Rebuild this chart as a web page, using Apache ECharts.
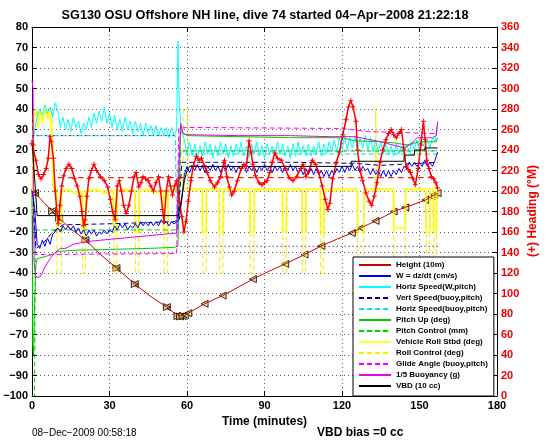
<!DOCTYPE html>
<html><head><meta charset="utf-8">
<script src="https://cdn.jsdelivr.net/npm/echarts@6/dist/echarts.min.js"></script>
<style>html,body{margin:0;padding:0;background:#fff}#c{width:546px;height:442px}</style>
</head><body><div id="c"></div>
<script>
const FONT = '"Liberation Sans", Arial, Helvetica, sans-serif';

// ---- data ----
const minutes = [
 0,1,2,3,4,5,6,7,8,9,
 10,11,12,13,14,15,16,17,18,19,
 20,21,22,23,24,25,26,27,28,29,
 30,31,32,33,34,35,36,37,38,39,
 40,41,42,43,44,45,46,47,48,49,
 50,51,52,53,54,55,56,56.5,57,58,
 59,60,61,62,63,64,65,66,67,68,
 69,70,71,72,73,74,75,76,77,78,
 79,80,81,82,83,84,85,86,87,88,
 89,90,91,92,93,94,95,96,97,98,
 99,100,101,102,103,104,105,106,107,108,
 109,110,111,112,113,114,115,116,117,118,
 119,120,121,122,123,124,125,126,127,128,
 129,130,131,132,133,134,135,136,137,138,
 139,140,141,142,143,144,145,146,147,148,
 149,150,151,152,153,154,155,156,157];
const horizSpeedW = [
 20,30,36,40,37,42,38,41,36,43,
 39,31,36,30,35,29,36,31,34,28,
 33,30,36,31,38,33,39,34,41,33,
 38,31,37,30,35,29,36,30,34,28,
 34,29,33,27,33,28,32,27,32,27,
 31,27,31,26,31,27,30,73,42,28,
 25,18,24,17,23,16,22,17,24,18,
 23,16,22,17,24,18,23,16,22,17,
 23,18,24,17,22,16,23,18,24,17,
 22,16,23,18,22,17,24,18,23,17,
 22,16,23,17,24,18,22,17,23,17,
 22,18,24,17,23,18,24,19,25,19,
 26,20,27,20,26,21,27,20,26,21,
 27,20,26,19,25,19,24,18,23,18,
 22,17,23,18,22,18,23,19,24,20,
 25,20,24,21,25,21,26,24,33];
const wSpeed = [
 0,-8,-26,-28,-24,-27,-23,-26,-21,-20,
 -18,-20,-17,-19,-17,-19,-17,-20,-18,-21,
 -19,-22,-19,-21,-19,-22,-20,-21,-19,-21,
 -19,-20,-17,-19,-16,-18,-16,-19,-17,-18,
 -16,-18,-15,-17,-15,-17,-15,-17,-15,-17,
 -14,-16,-15,-17,-15,-16,-15,-15,-14,-4,
 8,12,9,12,10,13,10,12,9,12,
 10,13,10,12,9,12,10,13,10,12,
 9,12,10,13,9,12,10,12,9,12,
 10,13,10,12,9,12,10,12,9,12,
 10,13,10,12,9,11,8,11,8,11,
 8,11,8,10,7,10,7,10,8,11,
 9,12,9,12,10,13,10,12,9,12,
 10,11,8,11,8,10,7,10,7,10,
 7,10,8,11,9,12,11,14,12,14,
 12,14,12,15,12,14,12,15,19];

const heightProfile = [[0,0],[1.2,-1],[4.5,-5.5],[7.8,-9.8],[10.5,-13.2],[15,-18.5],[20.7,-23.9],[26.5,-31],[32.7,-37.6],[39.8,-45.4],[46,-51.5],[52.2,-56.6],[55,-59.5],[57,-61],[59,-60.8],[60.5,-59.6],[66.8,-55],[73.8,-51],[80,-46.8],[85.5,-43],[92,-39],[98,-35.6],[105.5,-31],[112,-26.8],[118,-23.5],[123.8,-20.5],[127.3,-18],[133,-14.6],[140,-10],[144.5,-8],[152.3,-4.4],[157,-1]];
const descentMarkers = [[1.2,-1],[7.8,-9.8],[10.5,-13.2],[20.7,-23.9],[32.7,-37.6],[39.8,-45.4],[52.2,-56.6],[56.3,-61],[57.3,-61.2],[58.3,-61]];
const ascentMarkers = [[59.3,-60.5],[60.5,-59.6],[66.8,-55],[73.8,-51],[85.5,-43],[98,-35.6],[105.5,-31],[112,-26.8],[123.8,-20.5],[127.3,-18],[133,-14.6],[140,-10],[144.5,-8],[152.3,-4.4],[154.6,-2.6],[155.7,-1.8],[157,-1]];

const vertSpeedBuoy = [[0.5,-5],[1.5,-28],[4,-26],[8,-20],[12,-16.5],[30,-16],[55,-15],[56.5,-14],[58,14],[100,14],[125,13.5],[135,12.5],[157,14]];
const horizSpeedBuoy = [[1.5,27],[55.5,27],[56,-20],[56.8,18],[157,18]];
const pitchUp = [[0,0],[0.3,-75],[0.6,-80],[1,-55],[1.5,-36],[2,-33],[5,-32],[8,-31],[10,-29.5],[15,-29],[30,-28.5],[45,-28],[55,-27.5],[56.5,-27],[57.5,29],[60,27],[80,26.5],[100,26],[120,26],[125,24.5],[135,24],[140,23.5],[145,22.5],[150,24],[156.5,24],[157,26]];
const pitchControl = [[0,-100],[1,-100],[1.3,-19],[56.5,-19],[57.5,19.5],[157,19.5]];
const rollStbd = [[0,0],[0.3,-12],[0.7,36],[1.5,40],[2.3,31],[3.2,39],[4,33],[5,41],[6,35],[7,40],[7.6,28],[8.2,2],[9.6,1],[9.7,-20],[11.4,-20],[11.5,0],[14,1],[16,-1],[19.4,0],[19.5,-20],[20.7,-20],[20.8,0],[25,1],[28,-1],[31.5,0],[31.6,-20],[32.9,-20],[33,0],[36,1],[39.9,0],[40,-20],[41.4,-20],[41.5,0],[45,1],[48,-1],[50.9,0],[51,-20],[52.6,-20],[52.7,0],[55,1],[56.5,0],[57.5,8],[58.5,3],[59.5,1],[65.9,1],[66,-20],[67.5,-20],[67.6,1],[72.5,1],[72.6,-20],[74,-20],[74.1,1],[84.3,1],[84.4,-20],[86,-20],[86.1,1],[96.9,1],[97,-20],[98.5,-20],[98.6,1],[104.5,1],[104.6,-20],[106,-20],[106.1,1],[111.6,1],[111.7,-20],[113,-20],[113.1,1],[125.9,1],[126,-20],[128.5,-20],[128.6,1],[139.9,1],[140,-18],[144.5,-18],[144.6,1],[152.4,1],[152.5,-20],[154,-20],[154.1,1],[155.4,1],[155.5,-20],[156.5,-20],[156.6,1],[157,2]];
const rollControl = [[0,0],[0.5,38],[8,38],[8.3,0],[9.6,0],[9.7,-40],[11.4,-40],[11.5,0],[19.5,0],[19.6,-40],[20.6,-40],[20.7,0],[31.6,0],[31.7,-40],[32.8,-40],[32.9,0],[40,0],[40.1,-40],[41.3,-40],[41.4,0],[51,0],[51.1,-40],[52.5,-40],[52.6,0],[58.5,0],[58.6,40],[60.3,40],[60.4,0],[66,0],[66.1,-40],[67.4,-40],[67.5,0],[72.6,0],[72.7,-40],[73.9,-40],[74,0],[84.4,0],[84.5,-40],[85.9,-40],[86,0],[97,0],[97.1,-40],[98.4,-40],[98.5,0],[104.6,0],[104.7,-40],[105.9,-40],[106,0],[111.7,0],[111.8,-40],[112.9,-40],[113,0],[126,0],[126.1,-40],[128.4,-40],[128.5,0],[132.9,0],[133,40],[133.6,40],[133.7,0],[140,0],[140.1,-40],[144.4,-40],[144.5,0],[152.5,0],[152.6,-40],[153.9,-40],[154,0],[155.5,0],[155.6,-40],[156.5,-40],[156.6,0]];
const glideAngle = [[0.5,-10],[1.5,-31],[56,-30.5],[56.8,30.5],[60,31],[120,30.5],[130,29],[156.5,28],[157,33]];
const buoyancy = [[0,54],[0.4,50],[0.8,-35],[1.5,-42],[3,-42],[4,-40],[5,-37],[7,-33],[9,-30],[11,-28],[13,-28],[16,-26],[20.7,-24.7],[30,-23.6],[40,-22.4],[50,-21.2],[56,-20.5],[57.5,33],[58.5,28],[60,27.5],[80,27],[100,27],[115,26.5],[125,26.5],[135,24],[144,21],[147,23],[149,26],[155,26],[156.5,27],[157,34]];
const vbd = [[0,25],[0.7,12],[1.2,12],[2,-12],[56.5,-12],[57,-10],[58,-3],[59,5],[60,10],[61,12],[123.5,12],[123.6,14.5],[144,14.5],[144.1,17.5],[148,17.5],[148.1,20],[152,20],[152.1,21],[157,21]];
const refGlide = [[0.5,27],[56,27]];
const refGlideUp = [[56,-27],[157,-27]];
const headingTarget = [[10,213],[157,213]];
const heading = [[0,246],[0.5,245],[1.5,230],[2.5,216],[3.5,212],[4.5,216],[5.5,222],[6.3,232],[7,253],[7.5,248],[8.3,232],[9,200],[9.6,180],[10.2,168],[10.8,186],[11.5,205],[12.3,215],[13.2,222],[14.3,226],[15.4,222],[16.5,212],[17.5,205],[18.5,195],[19.3,180],[20,166],[20.6,172],[21.3,195],[22,212],[23,220],[24,226],[25,220],[26.5,214],[28,210],[29.3,204],[30.3,192],[31.2,180],[32.2,172],[33,205],[33.8,210],[34.6,200],[35.5,186],[36.5,178],[37.5,186],[38.5,200],[39.5,214],[40.3,218],[41.3,204],[42.2,208],[43,214],[44,212],[45,210],[46,205],[47,200],[48,208],[49,214],[49.8,200],[50.5,182],[51.1,170],[52,200],[52.8,214],[53.6,205],[54.4,196],[55.2,205],[56,210],[57,190],[58,175],[58.8,160],[59.6,170],[60.5,190],[61.5,210],[62.5,225],[63.6,234],[64.6,230],[65.6,232],[66.6,225],[67.8,218],[69,210],[70.6,204],[71.8,208],[73,214],[74.5,230],[75.4,214],[76.4,204],[77.3,196],[78.3,200],[79.5,210],[81,222],[82,226],[83,224],[84,249],[84.8,238],[85.5,226],[86.5,215],[87.9,208],[89,206],[90,208],[91,210],[92,218],[93,228],[94,237],[95,232],[96.5,230],[98,222],[99.5,213],[101,210],[102.5,214],[104,222],[105,226],[106,214],[107.3,220],[108.5,230],[109.8,226],[111,218],[112.3,205],[113.5,192],[114.5,182],[115.3,188],[116.4,212],[117.8,228],[119,238],[120.3,255],[121.6,270],[122.5,282],[123.4,288],[124.3,282],[125.4,268],[126,240],[127,220],[128,210],[129.3,198],[130.5,190],[131.5,186],[132.5,195],[133.5,208],[134.7,228],[135.8,240],[137,250],[138,256],[139,260],[140,255],[141,252],[142,256],[143,260],[144,240],[144.8,224],[145.6,221],[146.5,218],[147.5,212],[148.4,206],[149.5,222],[150.5,245],[151.5,268],[152.2,250],[152.8,230],[153.7,222],[154.6,214],[155.5,212],[156.3,208],[157,203]];

const legendNames = ['Height (10m)','W = dz/dt (cm/s)','Horiz Speed(W,pitch)','Vert Speed(buoy,pitch)','Horiz Speed(buoy,pitch)','Pitch Up (deg)','Pitch Control (mm)','Vehicle Roll Stbd (deg)','Roll Control (deg)','Glide Angle (buoy,pitch)','1/5 Buoyancy (g)','VBD (10 cc)'];

// ---- build ----
const zip = (xs, ys) => xs.map((x, i) => [x, ys[i]]);
const minus = v => String(v).replace('-', '\u2212');
function line(name, data, color, width, type, extra) {
  return Object.assign({
    type: 'line', name, data, symbol: 'none', showSymbol: false,
    lineStyle: { color, width, type: type || 'solid' },
    itemStyle: { color }, emphasis: { disabled: true }, silent: true
  }, extra || {});
}
const DASH = [5, 3];
const series = [
  line('Vehicle Roll Stbd (deg)', rollStbd, '#ffff33', 2),
  line('Roll Control (deg)', rollControl, '#f0f000', 1, DASH),
  line('Horiz Speed(W,pitch)', zip(minutes, horizSpeedW), '#00ffff', 1),
  line('Horiz Speed(buoy,pitch)', horizSpeedBuoy, '#00e0e0', 1, DASH),
  line('Pitch Up (deg)', pitchUp, '#00cc00', 1),
  line('Pitch Control (mm)', pitchControl, '#00cc00', 1, DASH),
  line('Glide Angle (buoy,pitch)', glideAngle, '#ff00ff', 1, DASH),
  line('1/5 Buoyancy (g)', buoyancy, '#ee00ee', 1),
  line('W = dz/dt (cm/s)', zip(minutes, wSpeed), '#0000ff', 1),
  line('Vert Speed(buoy,pitch)', vertSpeedBuoy, '#000099', 1, DASH),
  line('ref1', refGlide, '#000080', 1, [1, 3]),
  line('ref2', refGlideUp, '#000080', 1, [1, 3]),
  line('hdgTarget', headingTarget, '#dd0000', 1, [6, 4], { yAxisIndex: 1 }),
  line('heading', heading, '#ff0000', 1.5, 'solid', {
    yAxisIndex: 1, symbol: 'path://M-1,-5L1,-5L1,-1L5,-1L5,1L1,1L1,5L-1,5L-1,1L-5,1L-5,-1L-1,-1Z',
    showSymbol: true, symbolSize: 5
  }),
  line('VBD (10 cc)', vbd, '#000000', 1),
  line('Height (10m)', heightProfile, '#cc0000', 1),
  { type: 'scatter', name: 'mk1', data: descentMarkers, symbol: 'triangle', symbolSize: 7, symbolRotate: 90,
    itemStyle: { color: '#f3d37a', borderColor: '#000', borderWidth: 1 }, silent: true },
  { type: 'scatter', name: 'mk2', data: descentMarkers, symbol: 'triangle', symbolSize: 7, symbolRotate: -90,
    itemStyle: { color: '#f3d37a', borderColor: '#000', borderWidth: 1 }, silent: true },
  { type: 'scatter', name: 'mk3', data: ascentMarkers, symbol: 'triangle', symbolSize: 7, symbolRotate: 90,
    itemStyle: { color: '#f3d37a', borderColor: '#000', borderWidth: 1 }, silent: true }
];

const labelStyle = { fontFamily: FONT, fontWeight: 'bold', fontSize: 11, color: '#000' };
const chart = echarts.init(document.getElementById('c'), null, { renderer: 'canvas' });
chart.setOption({
  animation: false,
  backgroundColor: '#fff',
  grid: { left: 32, right: 49, top: 27, bottom: 46, containLabel: false },
  xAxis: [
    { type: 'value', min: 0, max: 180, interval: 30, position: 'bottom',
      name: 'Time (minutes)', nameLocation: 'middle', nameGap: 16,
      nameTextStyle: { fontFamily: FONT, fontWeight: 'bold', fontSize: 12, color: '#000' },
      axisLine: { show: true, onZero: false, lineStyle: { color: '#000', width: 1 } },
      axisTick: { show: true, inside: true, length: 5, lineStyle: { color: '#000' } },
      axisLabel: Object.assign({ margin: 4, formatter: minus }, labelStyle),
      splitLine: { show: true, lineStyle: { color: '#666', type: [1, 3], width: 1 } } },
    { type: 'value', min: 0, max: 180, interval: 30, position: 'top',
      axisLine: { show: true, onZero: false, lineStyle: { color: '#000', width: 1 } },
      axisTick: { show: true, inside: true, length: 5, lineStyle: { color: '#000' } },
      axisLabel: { show: false }, splitLine: { show: false } }
  ],
  yAxis: [
    { type: 'value', min: -100, max: 80, interval: 10, position: 'left',
      axisLine: { show: true, onZero: false, lineStyle: { color: '#000', width: 1 } },
      axisTick: { show: true, inside: true, length: 5, lineStyle: { color: '#000' } },
      axisLabel: Object.assign({ margin: 4, formatter: minus }, labelStyle),
      splitLine: { show: true, lineStyle: { color: '#666', type: [1, 3], width: 1 } } },
    { type: 'value', min: 0, max: 360, interval: 20, position: 'right',
      axisLine: { show: true, onZero: false, lineStyle: { color: '#000', width: 1 } },
      axisTick: { show: true, inside: true, length: 5, lineStyle: { color: '#000' } },
      axisLabel: Object.assign({}, labelStyle, { margin: 4, color: '#ee0000' }),
      splitLine: { show: false } }
  ],
  legend: {
    data: legendNames, orient: 'vertical', left: 353, top: 257,
    itemWidth: 32, itemHeight: 8, itemGap: 3, padding: [4, 6, 6, 5],
    backgroundColor: '#fff', borderColor: '#000', borderWidth: 1, borderRadius: 0,
    selectedMode: false, z: 20,
    itemStyle: { opacity: 0, borderWidth: 0 },
    textStyle: { fontFamily: FONT, fontWeight: 'bold', fontSize: 8, color: '#000' }
  },
  graphic: [
    { type: 'text', x: 265, y: 15, z: 30,
      style: { text: 'SG130 OSU Offshore NH line, dive 74 started 04\u2212Apr\u22122008 21:22:18',
        font: 'bold 12.7px "Liberation Sans", Arial, sans-serif', fill: '#000', align: 'center', verticalAlign: 'middle' } },
    { type: 'text', x: 533, y: 211, rotation: Math.PI / 2, z: 30,
      style: { text: '(+) Heading (\u00b0M)', font: 'bold 12px "Liberation Sans", Arial, sans-serif',
        fill: '#ee0000', align: 'center', verticalAlign: 'middle' } },
    { type: 'text', left: 32, top: 428, z: 30,
      style: { text: '08\u2212Dec\u22122009 00:58:18', font: '10px "Liberation Sans", Arial, sans-serif', fill: '#000' } },
    { type: 'text', left: 317, top: 427, z: 30,
      style: { text: 'VBD bias =0 cc', font: 'bold 12px "Liberation Sans", Arial, sans-serif', fill: '#000' } }
  ],
  series
});
</script></body></html>
